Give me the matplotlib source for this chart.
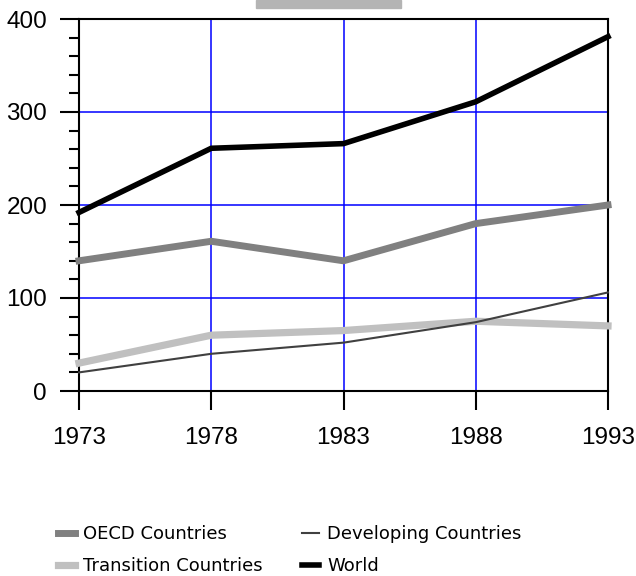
import matplotlib
matplotlib.use("Agg")
import matplotlib.pyplot as plt
from matplotlib.patches import Rectangle
from matplotlib.ticker import MultipleLocator

years = [1973, 1978, 1983, 1988, 1993]
oecd = [140, 161, 140, 180, 200]
developing = [20, 40, 52, 74, 106]
transition = [30, 60, 65, 75, 70]
world = [192, 261, 266, 311, 381]
series_labels = ["OECD Countries", "Transition Countries", "Developing Countries", "World"]
y_ticks = [0, 100, 200, 300, 400]

W, H = 636, 576
fig = plt.figure(figsize=(W / 100, H / 100), dpi=100)
ax = fig.add_axes([79 / W, 1 - 391 / H, (608 - 79) / W, (391 - 19) / H])

# grey title bar remnant at the top
fig.patches.append(Rectangle((256 / W, 1 - 8 / H), 145 / W, 8 / H,
                             transform=fig.transFigure, color="#b4b4b4", zorder=0))

ax.set_xlim(1973, 1993)
ax.set_ylim(0, 400)
ax.set_xticks(years)
ax.set_yticks(y_ticks)
ax.yaxis.set_minor_locator(MultipleLocator(20))
ax.grid(True, color="#0000ff", linewidth=1.1, zorder=1)
ax.set_axisbelow(True)

for s in ax.spines.values():
    s.set_linewidth(1.5)
    s.set_color("black")

ax.tick_params(axis="both", which="major", length=14, width=1.5, direction="out",
               labelsize=17.5, color="black")
ax.tick_params(axis="y", which="major", pad=9)
ax.tick_params(axis="x", which="major", pad=12)
ax.tick_params(axis="y", which="minor", length=7, width=1.5, direction="out")
for lab in ax.get_xticklabels() + ax.get_yticklabels():
    lab.set_fontfamily("Liberation Sans")

l1, = ax.plot(years, oecd, color="#808080", lw=5.0, solid_capstyle="projecting", clip_on=False, zorder=3)
l2, = ax.plot(years, transition, color="#c0c0c0", lw=5.2, solid_capstyle="projecting", clip_on=False, zorder=3)
l3, = ax.plot(years, developing, color="#404040", lw=1.5, clip_on=False, zorder=4)
l4, = ax.plot(years, world, color="#000000", lw=4.0, solid_capstyle="projecting", clip_on=False, zorder=5)

leg = fig.legend([l1, l2, l3, l4], series_labels, ncol=2, frameon=False,
                 loc="upper left", bbox_to_anchor=(49 / W, 1 - 516 / H),
                 prop={"family": "DejaVu Sans", "size": 13},
                 borderpad=0, handlelength=0.95, handletextpad=0.45, columnspacing=2.15,
                 labelspacing=0.78)

fig.savefig("out.png", dpi=100)
